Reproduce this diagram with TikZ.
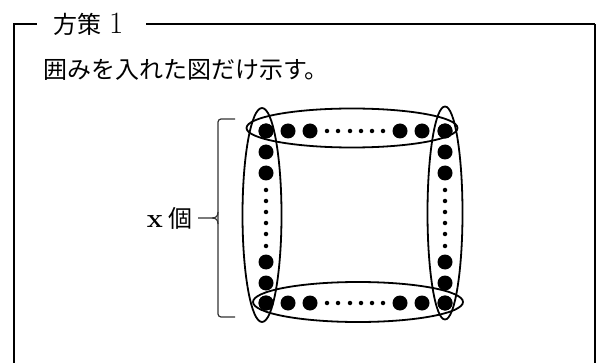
\documentclass[tikz,border=0pt]{standalone}
\usepackage{fontspec}
\newfontfamily\jp{Noto Sans CJK JP}
\usetikzlibrary{shapes.geometric}
\begin{document}
\begin{tikzpicture}[x=1pt,y=-1pt,
  big/.style={circle,fill=black,inner sep=0pt,minimum size=15pt},
  small/.style={circle,fill=black,inner sep=0pt,minimum size=4.5pt},
  ring/.style={ellipse,draw,line width=1.8pt,inner sep=0pt},
  framel/.style={line width=2pt},
  lbl/.style={inner sep=0pt,font=\fontsize{24}{28}\selectfont}]
\useasboundingbox (0,0) rectangle (596,363);
% frame
\coordinate (fTL) at (14,24);
\coordinate (fBL) at (14,363);
\coordinate (fA) at (37,24);
\coordinate (fB) at (146,24);
\coordinate (fTR) at (595,24);
\coordinate (fBR) at (595,363);
\draw[framel] (fBL) -- (fTL) -- (fA);
\draw[line width=2.5pt] (fB) -- (fTR);
\draw[line width=1.2pt] (fTR) -- (fBR);
\node[lbl,anchor=west] (title) at (53,24) {\jp 方策\hspace{8pt}{\rmfamily\fontsize{31}{34}\selectfont 1}};
\node[lbl,anchor=west] (body) at (43,70) {\jp 囲みを入れた図だけ示す。};
% dots
\foreach \x [count=\i] in {266,288,310,400,422,445} {
  \node[big] (t\i) at (\x,131) {};
  \node[big] (b\i) at (\x,303) {};
}
\foreach \x [count=\i] in {327,338,350,361,372,383} {
  \node[small] (ts\i) at (\x,131) {};
  \node[small] (bs\i) at (\x,303) {};
}
\foreach \y [count=\i] in {131,152,173,262,283,303} {
  \node[big] (l\i) at (266,\y) {};
  \node[big] (r\i) at (445,\y) {};
}
\foreach \y [count=\i] in {190,201,212,223,234,246} {
  \node[small] (ls\i) at (266,\y) {};
  \node[small] (rs\i) at (445,\y) {};
}
% rings
\node[ring,minimum width=211pt,minimum height=39pt] (et) at (352,128) {};
\node[ring,minimum width=210pt,minimum height=40pt] (eb) at (358,302) {};
\node[ring,minimum width=39pt,minimum height=214pt] (el) at (262,215) {};
\node[ring,minimum width=35pt,minimum height=213pt] (er) at (445,213) {};
% brace
\coordinate (bt) at (235,119);
\coordinate (bb) at (235,317);
\coordinate (bm) at (198,218);
\draw[line width=1.2pt,black!80,rounded corners=3pt] (bt) -- (218,119) -- (218,317) -- (bb);
\draw[line width=1.2pt,black!80] (bm) -- (212,218) .. controls (216,218) and (218,216) .. (218,212);
\draw[line width=1.2pt,black!80] (212,218) .. controls (216,218) and (218,220) .. (218,224);
\node[lbl,anchor=east] (xlab) at (193,218) {{\fontsize{27}{30}\selectfont\textbf{x}}\hspace{6pt}\jp 個};
\end{tikzpicture}
\end{document}
